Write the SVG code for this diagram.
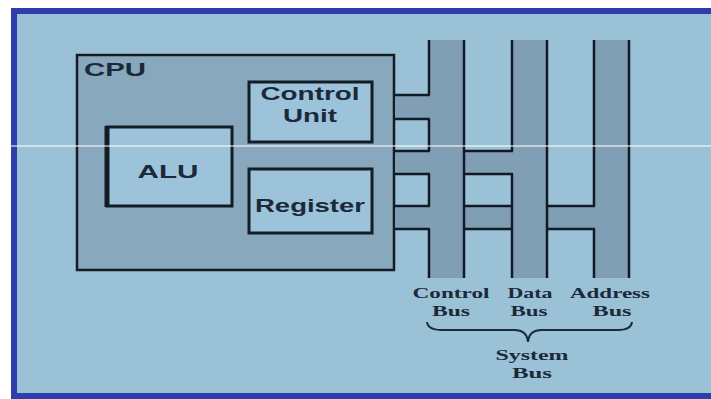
<svg xmlns="http://www.w3.org/2000/svg" width="711" height="399" viewBox="0 0 711 399">
<style>
.box{fill:#9cc3da;stroke:#141c26;stroke-width:3}
.bus{fill:#809fb4}
.ln{stroke:#111a26;stroke-width:2.5;fill:none}
.t{font-family:"Liberation Sans",Arial,sans-serif;font-weight:bold;font-size:19px;fill:#1b2a3a}
.s{font-family:"Liberation Serif","Times New Roman",serif;font-weight:bold;font-size:15px;fill:#1b2a3a}
</style>
<rect x="0" y="0" width="711" height="399" fill="#ffffff"/>
<rect x="14" y="11" width="740" height="385" fill="#9bc1d7" stroke="#2f3da8" stroke-width="6"/>
<g id="cpu">
<rect x="77" y="55" width="317" height="215" fill="#87a8bd" stroke="#161c24" stroke-width="2.5"/>
<text class="t" x="84" y="76" textLength="62" lengthAdjust="spacingAndGlyphs">CPU</text>
</g>
<g id="control-unit">
<rect class="box" x="249" y="82" width="123" height="60"/>
<text class="t" x="310" y="100" text-anchor="middle" textLength="99" lengthAdjust="spacingAndGlyphs">Control</text>
<text class="t" x="310" y="122" text-anchor="middle" textLength="54" lengthAdjust="spacingAndGlyphs">Unit</text>
</g>
<g id="alu">
<rect class="box" x="107" y="127" width="125" height="79"/>
<line x1="107" y1="126" x2="107" y2="207" stroke="#141c26" stroke-width="5"/>
<text class="t" x="168" y="178" text-anchor="middle" textLength="61" lengthAdjust="spacingAndGlyphs">ALU</text>
</g>
<g id="register">
<rect class="box" x="249" y="169" width="123" height="64"/>
<text class="t" x="310" y="212" text-anchor="middle" textLength="110" lengthAdjust="spacingAndGlyphs">Register</text>
</g>
<g id="connectors">
<rect class="bus" x="429" y="40" width="35" height="238"/>
<rect class="bus" x="512" y="40" width="35" height="238"/>
<rect class="bus" x="594" y="40" width="35" height="238"/>
<rect class="bus" x="395" y="95" width="34" height="24"/>
<rect class="bus" x="395" y="151" width="117" height="23"/>
<rect class="bus" x="395" y="206" width="199" height="23"/>
<path class="ln" d="M429,40V95M429,119V151M429,174V206M429,229V278M464,40V278M512,40V151M512,174V278M547,40V278M594,40V206M594,229V278M629,40V278"/>
<path class="ln" d="M394,95H430M394,119H430M394,151H430M463,151H513M394,174H430M463,174H513M394,206H430M463,206H512M546,206H595M394,229H430M463,229H512M546,229H595"/>
</g>
<g id="bus-labels">
<text class="s" x="451" y="298" text-anchor="middle" textLength="77" lengthAdjust="spacingAndGlyphs">Control</text>
<text class="s" x="451" y="316" text-anchor="middle" textLength="38" lengthAdjust="spacingAndGlyphs">Bus</text>
<text class="s" x="530" y="298" text-anchor="middle" textLength="45" lengthAdjust="spacingAndGlyphs">Data</text>
<text class="s" x="529" y="316" text-anchor="middle" textLength="37" lengthAdjust="spacingAndGlyphs">Bus</text>
<text class="s" x="610" y="298" text-anchor="middle" textLength="80" lengthAdjust="spacingAndGlyphs">Address</text>
<text class="s" x="612" y="316" text-anchor="middle" textLength="39" lengthAdjust="spacingAndGlyphs">Bus</text>
</g>
<g id="system-bus">
<path d="M427,322Q428,330 442,330L514,330Q527,330 528,342Q529,330 542,330L618,330Q631,330 632,322" fill="none" stroke="#1b2a3a" stroke-width="2"/>
<text class="s" x="532" y="360" text-anchor="middle" textLength="73" lengthAdjust="spacingAndGlyphs">System</text>
<text class="s" x="532" y="378" text-anchor="middle" textLength="40" lengthAdjust="spacingAndGlyphs">Bus</text>
</g>
<line x1="10" y1="146" x2="711" y2="146" stroke="#ffffff" stroke-width="1.5" opacity="0.7"/>
</svg>
